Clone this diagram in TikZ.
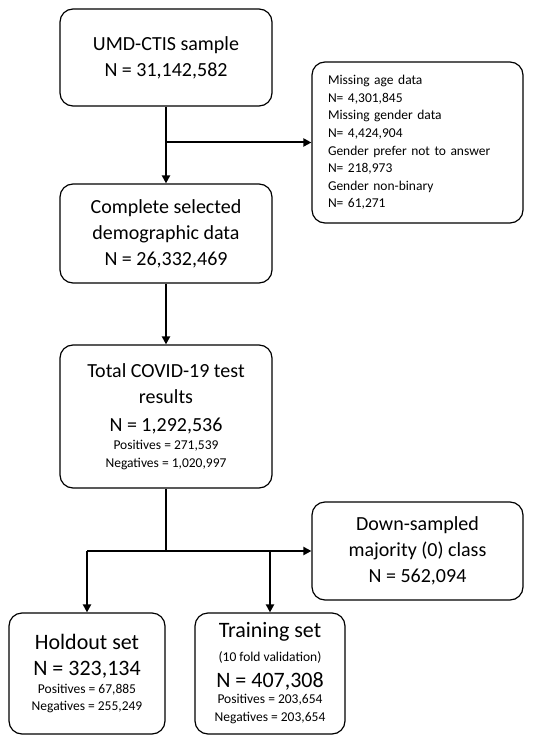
\documentclass[tikz,border=0pt]{standalone}
\usepackage{fontspec}
\setmainfont{Carlito}
\usetikzlibrary{arrows.meta}
\newcommand\smtxt{\fontsize{13.5}{17}\selectfont}
\begin{document}
\begin{tikzpicture}[x=1pt,y=-1pt,
  box/.style={draw, line width=1.2pt, rounded corners=13pt, align=center, inner sep=0pt},
  big/.style={font=\fontsize{20}{26}\selectfont},
  wide/.style={minimum width=212pt},
  arr/.style={line width=2pt, -{Triangle[length=8pt,width=8pt]}},
  ln/.style={line width=2pt}]
\useasboundingbox (0,0) rectangle (535,735);

\node[box,big,wide,minimum height=97pt] (b1) at (166,57.5) {UMD-CTIS sample\\N = 31,142,582};

\node[box,minimum width=211pt,minimum height=161pt,align=left,text width=179pt,
  font=\fontsize{13.5}{17.6}\selectfont] (miss) at (417.5,142.5)
  {Missing age data\\N= 4,301,845\\Missing gender data\\N= 4,424,904\\Gender prefer not to answer\\N= 218,973\\Gender non-binary\\N= 61,271};

\node[box,big,wide,minimum height=99pt] (b2) at (166,233.5) {Complete selected\\demographic data\\N = 26,332,469};

\node[box,big,wide,minimum height=143pt] (b3) at (166,416.5)
  {Total COVID-19 test\\results\\[2pt]N = 1,292,536\\[-8pt]{\smtxt Positives = 271,539}\\[-8pt]{\smtxt Negatives = 1,020,997}};

\node[box,big,minimum width=211pt,minimum height=98pt] (down) at (417.5,551)
  {Down-sampled\\majority (0) class\\N = 562,094};

\node[box,minimum width=156pt,minimum height=121pt,font=\fontsize{22}{26}\selectfont] (hold) at (87,673.5)
  {Holdout set\\N = 323,134\\[-8pt]{\smtxt Positives = 67,885}\\[-9pt]{\smtxt Negatives = 255,249}};

\node[box,minimum width=150pt,minimum height=121pt,font=\fontsize{22}{26}\selectfont] (train) at (270,673.5)
  {Training set\\[-2pt]{\smtxt (10 fold validation)}\\N = 407,308\\[-10pt]{\smtxt Positives = 203,654}\\[-8pt]{\smtxt Negatives = 203,654}};

\draw[arr] (b1.south) -- (b2.north);
\draw[arr] (b1.south |- miss.west) -- (miss.west);
\draw[arr] (b2.south) -- (b3.north);
\draw[ln] (b3.south) -- (b3.south |- down.west) coordinate (j);
\draw[arr] (hold.north |- j) -- (down.west);
\draw[arr] (hold.north |- j) -- (hold.north);
\draw[arr] (train.north |- j) -- (train.north);
\end{tikzpicture}
\end{document}
